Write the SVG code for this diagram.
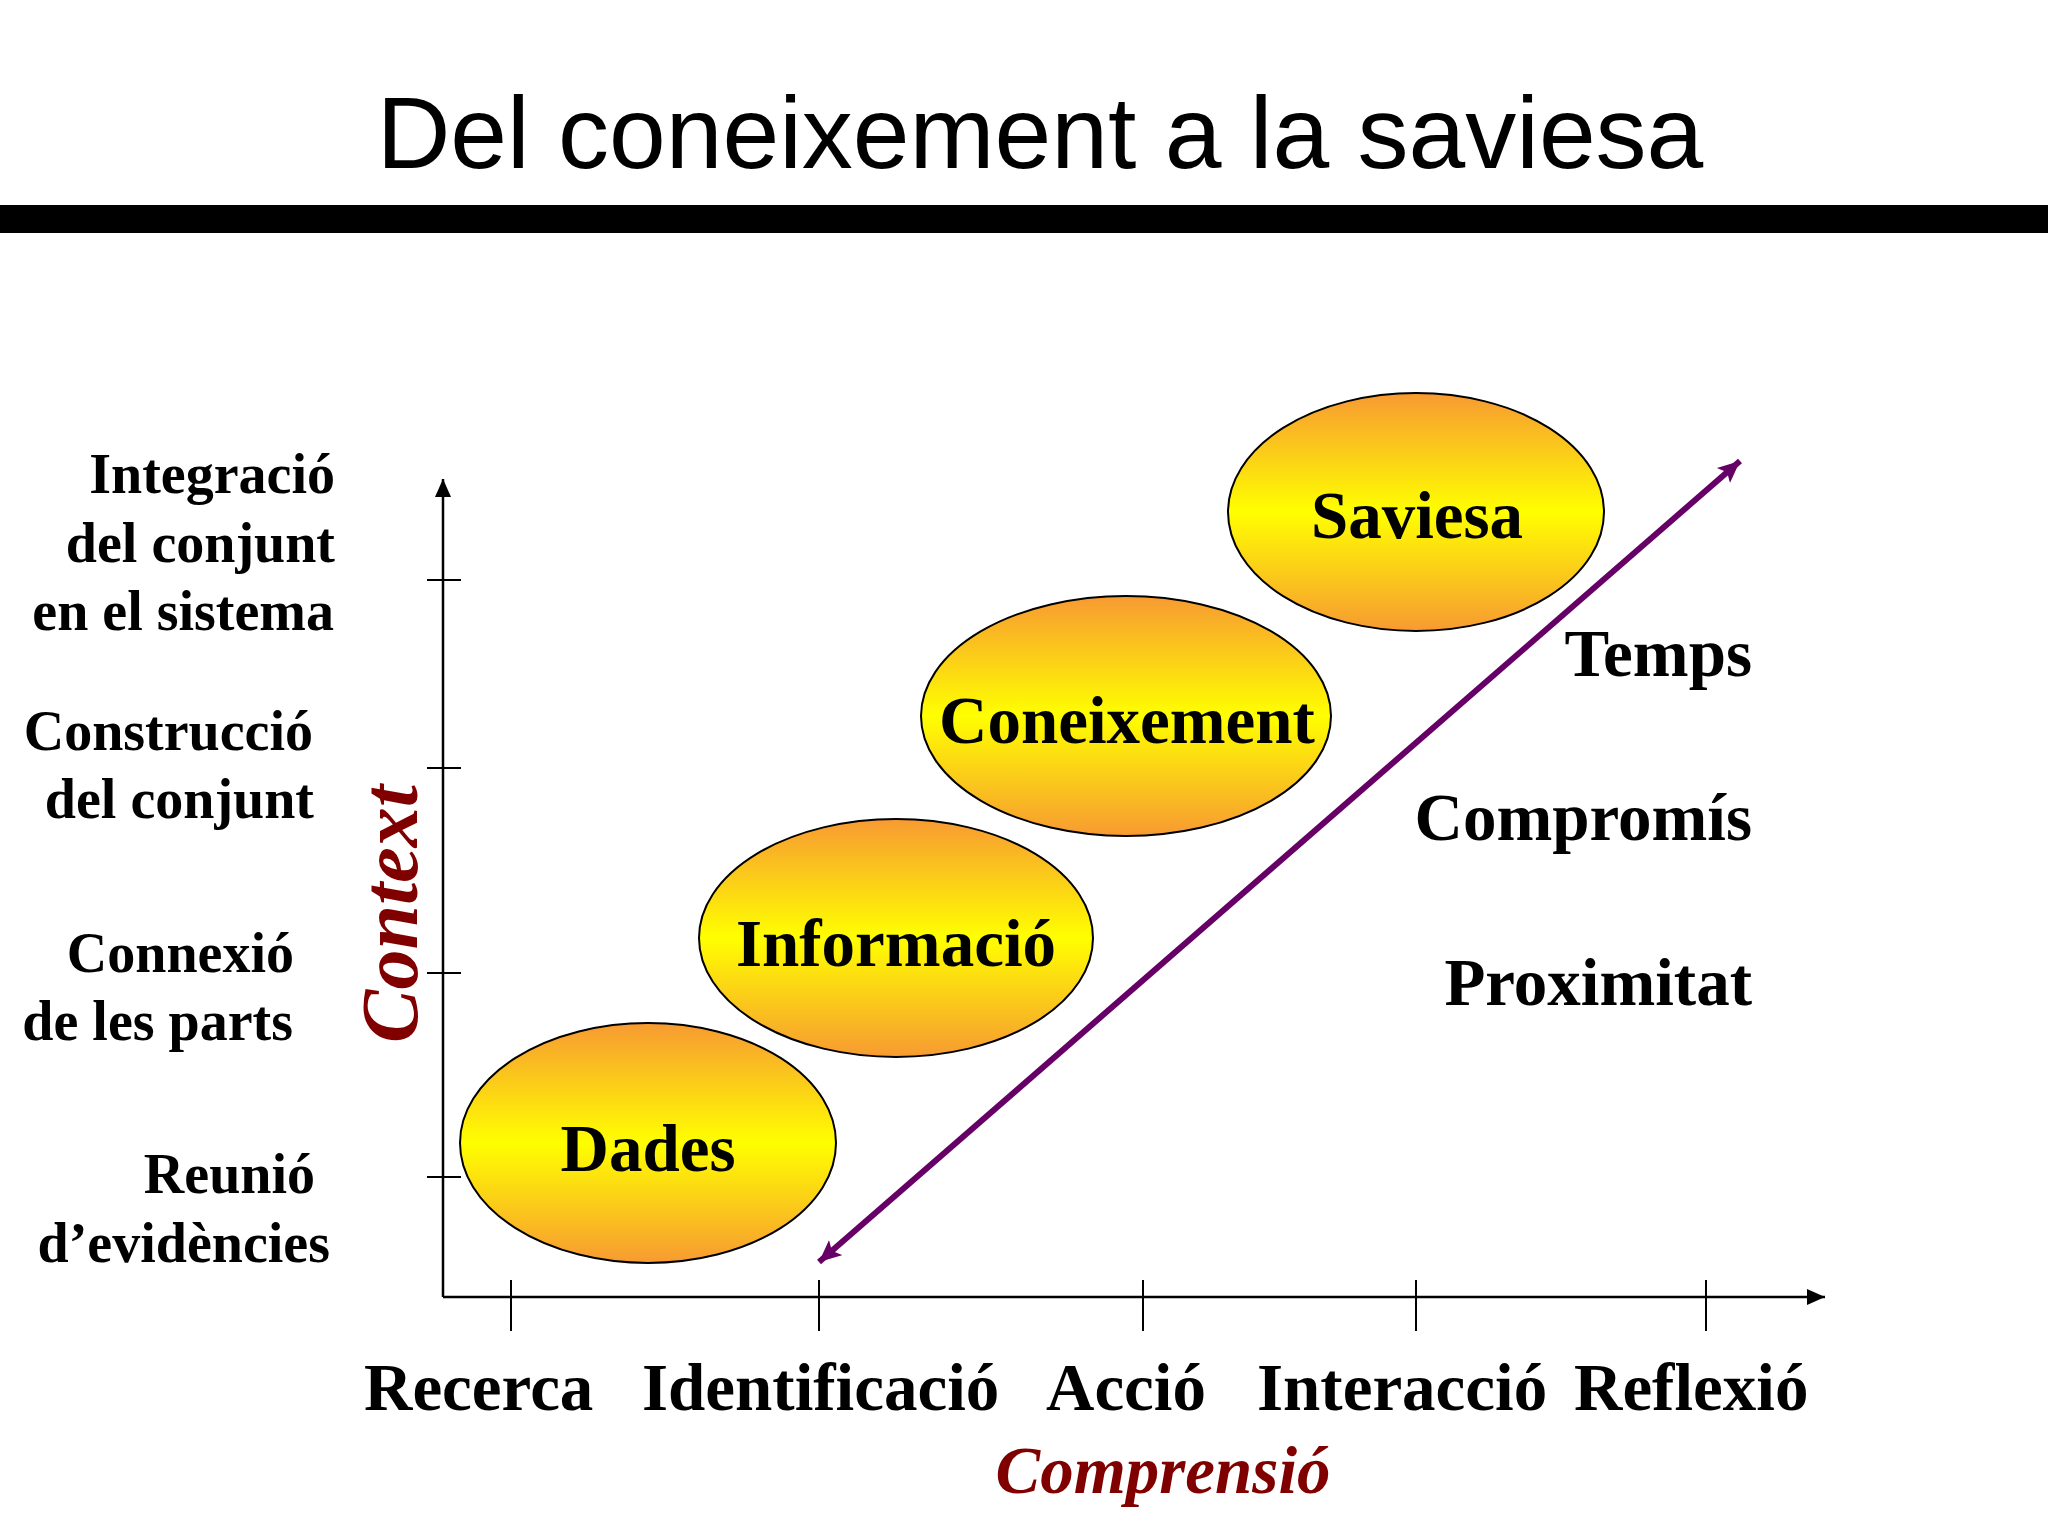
<svg xmlns="http://www.w3.org/2000/svg" width="2048" height="1536" viewBox="0 0 2048 1536">
  <defs>
    <style>
      .lbl { font-family: "Liberation Serif", "Times New Roman", serif; font-weight: bold; font-size: 56px; fill: #000; }
      .xl { font-family: "Liberation Serif", "Times New Roman", serif; font-weight: bold; font-size: 67px; fill: #000; }
      .node-t { font-family: "Liberation Serif", "Times New Roman", serif; font-weight: bold; font-size: 67px; fill: #000; text-anchor: middle; }
      .axis-t { font-family: "Liberation Serif", "Times New Roman", serif; font-weight: bold; font-style: italic; fill: #800000; text-anchor: middle; }
      .axis { stroke: #000; stroke-width: 2.5; fill: none; }
      .tick { stroke: #000; stroke-width: 2; fill: none; }
      .node-e { fill: url(#orangeGrad); stroke: #000; stroke-width: 2; }
    </style>
    <linearGradient id="orangeGrad" x1="0" y1="0" x2="0" y2="1">
      <stop offset="0" stop-color="#F79A32"/>
      <stop offset="0.5" stop-color="#FFFF00"/>
      <stop offset="1" stop-color="#F79A32"/>
    </linearGradient>
    <marker id="axHead" markerUnits="userSpaceOnUse" markerWidth="20" markerHeight="16" refX="18" refY="8" orient="auto">
      <path d="M0,0 L18,8 L0,16 z" fill="#000"/>
    </marker>
    <marker id="pHead" markerUnits="userSpaceOnUse" markerWidth="24" markerHeight="22" refX="22" refY="11" orient="auto-start-reverse">
      <path d="M0,1 L22,11 L0,21 L5,11 z" fill="#660066"/>
    </marker>
  </defs>

  <rect width="2048" height="1536" fill="#fff"/>

  <g id="title">
    <text x="1040" y="168" font-family="'Liberation Sans', Arial, sans-serif" font-size="102" text-anchor="middle" fill="#000">Del coneixement a la saviesa</text>
    <rect x="0" y="205" width="2048" height="28" fill="#000"/>
  </g>

  <g id="axes">
    <line class="axis" x1="443" y1="1297" x2="443" y2="479" marker-end="url(#axHead)"/>
    <line class="axis" x1="443" y1="1297" x2="1825" y2="1297" marker-end="url(#axHead)"/>
    <line class="tick" x1="427" y1="580" x2="461" y2="580"/>
    <line class="tick" x1="427" y1="768" x2="461" y2="768"/>
    <line class="tick" x1="427" y1="973" x2="461" y2="973"/>
    <line class="tick" x1="427" y1="1177" x2="461" y2="1177"/>
    <line class="tick" x1="511" y1="1280" x2="511" y2="1331"/>
    <line class="tick" x1="819" y1="1280" x2="819" y2="1331"/>
    <line class="tick" x1="1143" y1="1280" x2="1143" y2="1331"/>
    <line class="tick" x1="1416" y1="1280" x2="1416" y2="1331"/>
    <line class="tick" x1="1706" y1="1280" x2="1706" y2="1331"/>
  </g>

  <g id="y-labels">
    <text class="lbl" text-anchor="end" x="335" y="493">Integració</text>
    <text class="lbl" text-anchor="end" x="335" y="562">del conjunt</text>
    <text class="lbl" text-anchor="end" x="334" y="630">en el sistema</text>
    <text class="lbl" text-anchor="end" x="313" y="750">Construcció</text>
    <text class="lbl" text-anchor="end" x="314" y="818">del conjunt</text>
    <text class="lbl" text-anchor="end" x="294" y="972">Connexió</text>
    <text class="lbl" text-anchor="end" x="293" y="1040">de les parts</text>
    <text class="lbl" text-anchor="end" x="315" y="1193">Reunió</text>
    <text class="lbl" text-anchor="end" x="330" y="1262">d’evidències</text>
  </g>

  <g id="x-labels">
    <text class="xl" x="364" y="1410">Recerca</text>
    <text class="xl" x="642" y="1410">Identificació</text>
    <text class="xl" x="1046" y="1410">Acció</text>
    <text class="xl" x="1257" y="1410">Interacció</text>
    <text class="xl" x="1574" y="1410">Reflexió</text>
  </g>

  <g id="axis-titles">
    <text class="axis-t" font-size="67" x="1163" y="1493">Comprensió</text>
    <text class="axis-t" font-size="80" transform="translate(417,914) rotate(-90)">Context</text>
  </g>

  <g id="connectors">
    <line x1="819" y1="1262" x2="1740" y2="461" stroke="#660066" stroke-width="6" marker-start="url(#pHead)" marker-end="url(#pHead)"/>
  </g>

  <g id="node-dades">
    <ellipse class="node-e" cx="648" cy="1143" rx="188" ry="120"/>
    <text class="node-t" x="648" y="1171">Dades</text>
  </g>
  <g id="node-informacio">
    <ellipse class="node-e" cx="896" cy="938" rx="197" ry="119"/>
    <text class="node-t" x="896" y="966">Informació</text>
  </g>
  <g id="node-coneixement">
    <ellipse class="node-e" cx="1126" cy="716" rx="205" ry="120"/>
    <text class="node-t" x="1127" y="743">Coneixement</text>
  </g>
  <g id="node-saviesa">
    <ellipse class="node-e" cx="1416" cy="512" rx="188" ry="119"/>
    <text class="node-t" x="1417" y="538">Saviesa</text>
  </g>

  <g id="side-labels">
    <text class="xl" text-anchor="end" x="1752" y="676">Temps</text>
    <text class="xl" text-anchor="end" x="1752" y="840">Compromís</text>
    <text class="xl" text-anchor="end" x="1752" y="1005">Proximitat</text>
  </g>
</svg>
